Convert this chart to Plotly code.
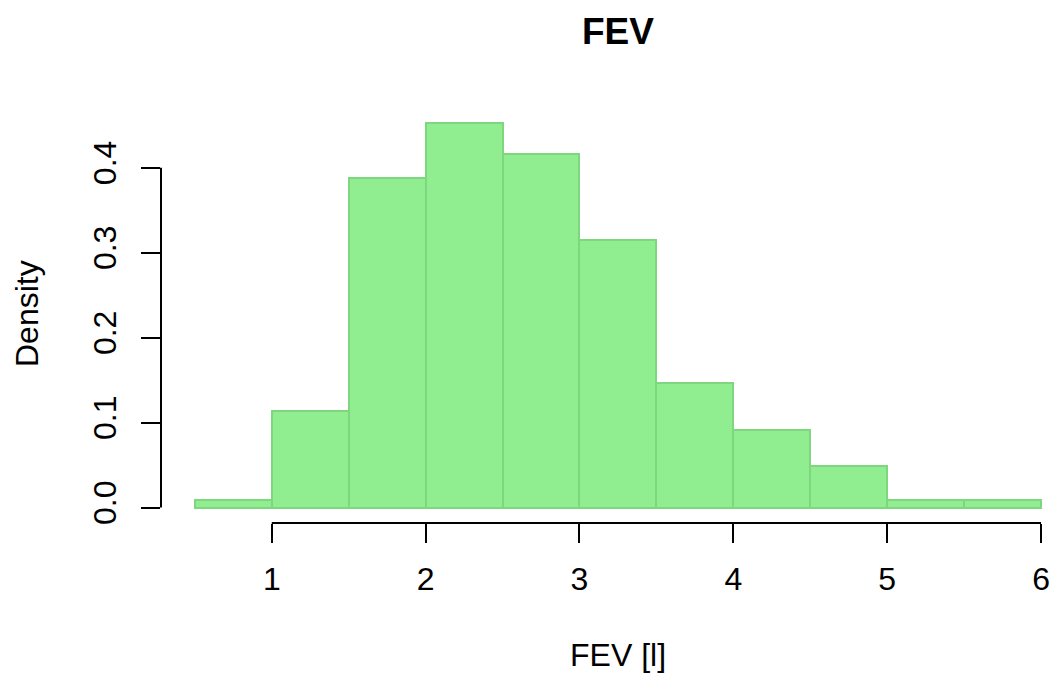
import plotly.graph_objects as go

# Histogram of FEV (density scale), bin width 0.5 l
bin_left = [0.5, 1.0, 1.5, 2.0, 2.5, 3.0, 3.5, 4.0, 4.5, 5.0, 5.5]
density = [0.0092, 0.1131, 0.3884, 0.4526, 0.4159, 0.3150, 0.1468, 0.0917, 0.0489, 0.0092, 0.0092]
bin_width = 0.5

x_ticks = [1, 2, 3, 4, 5, 6]
y_ticks = [0.0, 0.1, 0.2, 0.3, 0.4]
y_tick_text = ["0.0", "0.1", "0.2", "0.3", "0.4"]

FONT = "Liberation Sans, Arial, Helvetica, sans-serif"
W, H = 1054, 675
ML, MR, MT, MB = 161, 0, 105, 152

mids = [b + bin_width / 2 for b in bin_left]

fig = go.Figure(
    go.Bar(
        x=mids,
        y=density,
        width=[bin_width] * len(mids),
        marker=dict(color="#90EE90", line=dict(color="#7ED67E", width=2)),
        hoverinfo="x+y",
    )
)

yr = [-0.0182, 0.4738]
xr0 = 0.5 - 0.04 * 5.5
px_per_unit = 153.85
xr = [xr0, xr0 + (W - ML - MR) / px_per_unit]

fig.update_layout(
    width=W,
    height=H,
    margin=dict(l=ML, r=MR, t=MT, b=MB),
    paper_bgcolor="white",
    plot_bgcolor="white",
    showlegend=False,
    font=dict(family=FONT, size=32, color="black"),
    bargap=0,
)

fig.update_xaxes(
    range=xr,
    showgrid=False,
    zeroline=False,
    showline=False,
    tickmode="array",
    tickvals=x_ticks,
    ticktext=[str(v) for v in x_ticks],
    ticks="outside",
    ticklen=19,
    tickwidth=2,
    tickcolor="black",
    tickfont=dict(size=32, family=FONT),
    ticklabelstandoff=9,
)
fig.update_yaxes(
    range=yr,
    showgrid=False,
    zeroline=False,
    showline=False,
    tickmode="array",
    tickvals=y_ticks,
    ticktext=y_tick_text,
    ticks="outside",
    ticklen=19,
    tickwidth=2,
    tickcolor="black",
    tickangle=-90,
    tickfont=dict(size=32, family=FONT),
    ticklabelstandoff=12,
)

# Axis lines spanning only the tick range
fig.add_shape(type="line", xref="x", yref="paper", x0=x_ticks[0], x1=x_ticks[-1], y0=0, y1=0,
              line=dict(color="black", width=2))
fig.add_shape(type="line", xref="paper", yref="y", x0=0, x1=0, y0=y_ticks[0], y1=y_ticks[-1],
              line=dict(color="black", width=2))

# Title and axis labels
plot_center = (xr0 + (6.0 + 0.04 * 5.5)) / 2
fig.add_annotation(text="<b>FEV</b>", xref="x", yref="paper", x=plot_center, y=1,
                   yanchor="middle", yshift=105 - 31, showarrow=False,
                   font=dict(size=37, family=FONT))
fig.add_annotation(text="FEV [l]", xref="x", yref="paper", x=plot_center, y=0,
                   yanchor="middle", yshift=-(655 - 523), showarrow=False,
                   font=dict(size=32, family=FONT))
fig.add_annotation(text="Density", xref="paper", yref="paper", x=0, y=0.5,
                   xanchor="center", xshift=-(161 - 27), textangle=-90, showarrow=False,
                   font=dict(size=32, family=FONT))

fig.write_html("out.html")
